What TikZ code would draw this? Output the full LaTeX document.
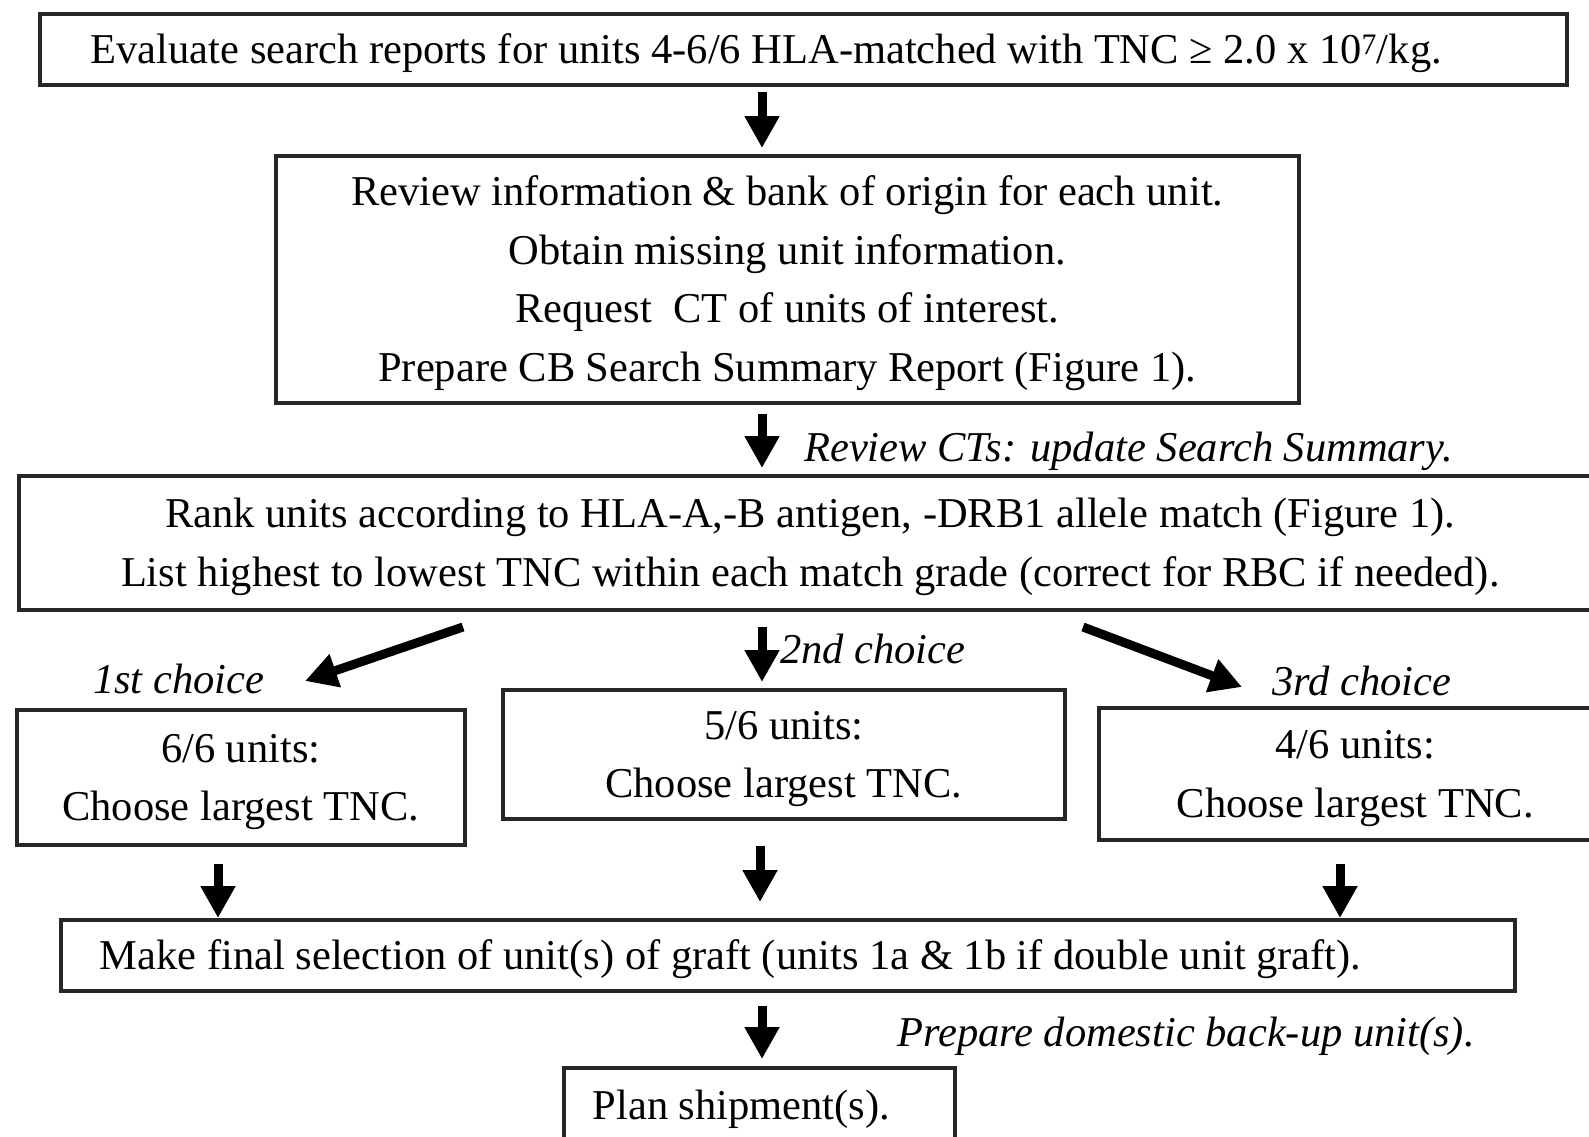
\documentclass[tikz,border=0pt]{standalone}
\usepackage{fontspec}
\setmainfont{Liberation Serif}
\usetikzlibrary{arrows.meta,positioning,calc}

% struts that fix the baseline of a one-line framed step
\newcommand{\topstrut}{\rule{0pt}{40pt}}
\newcommand{\botstrut}{\rule[-11.6pt]{0pt}{0pt}}
% centred lines of a framed step, set a little lower than their box centre
\newcommand{\boxlines}[1]{\raisebox{-2.5pt}[\height][\depth]{\begin{tabular}{@{}c@{}}#1\end{tabular}}}

\tikzset{
  x=1pt, y=-1pt,
  every node/.style={font=\fontsize{42.5}{58.5}\selectfont, text=black},
  stepbox/.style={draw=black!85, line width=3.5pt, inner sep=0pt, anchor=north west},
  leftbox/.style={stepbox, align=left, inner xsep=#1,
    execute at begin node={\spaceskip=0pt\xspaceskip=0pt\topstrut},
    execute at end node=\botstrut},
  note/.style={font=\fontsize{42.5}{58.5}\selectfont\itshape, anchor=base west, inner sep=0pt},
  arr/.style={line width=9pt, -{Triangle[width=33pt,length=32pt]}},
}

\begin{document}
\begin{tikzpicture}
\useasboundingbox (0,0) rectangle (1589,1136);
\clip (0,0) rectangle (1589,1136);

% boxes of the flow
\node[leftbox=51pt, text width=1425pt, minimum height=71pt] (b1) at (38,12)
  {Evaluate search reports for units 4-6/6 HLA-matched with TNC ≥ 2.0 x 10\textsuperscript{7}/kg.};
\node[stepbox, minimum width=1023pt, minimum height=247pt] (b2) at (274,154)
  {\boxlines{Review information \& bank of origin for each unit.\\
   Obtain missing unit information.\\
   Request\ \ CT of units of interest.\\
   Prepare CB Search Summary Report (Figure 1).}};
\node[stepbox, minimum width=1583pt, minimum height=134pt] (b3) at (17,474)
  {\boxlines{Rank units according to HLA-A,-B antigen, -DRB1 allele match (Figure 1).\\
   List highest to lowest TNC within each match grade (correct for RBC if needed).}};
\node[stepbox, minimum width=448pt, minimum height=135pt] (b6) at (15,708)
  {\boxlines{6/6 units:\\ Choose largest TNC.}};
\node[stepbox, minimum width=562pt, minimum height=129pt] (b5) at (501,688)
  {\boxlines{5/6 units:\\ Choose largest TNC.}};
\node[stepbox, minimum width=513pt, minimum height=132pt] (b4) at (1097,706)
  {\boxlines{4/6 units:\\ Choose largest TNC.}};
\node[leftbox=39pt, text width=1376pt, minimum height=71pt] (bF) at (59,918)
  {Make final selection of unit(s) of graft (units 1a \& 1b if double unit graft).};
\node[stepbox, align=left, inner xsep=29pt, text width=333pt, minimum height=84pt,
      execute at begin node={\spaceskip=0pt\xspaceskip=0pt}] (bP) at (562,1066)
  {Plan shipment(s).};

% side notes
\node[note] (nrev) at (804,461) {Review CTs: update Search Summary.};
\node[note] (n1) at (93,693) {1st choice};
\node[note] (n2) at (780,663) {2nd choice};
\node[note] (n3) at (1272,695) {3rd choice};
\node[note] (nprep) at (897,1046) {Prepare domestic back-up unit(s).};

% columns of the vertical arrows
\coordinate (cM) at (762,0);
\coordinate (cM2) at (760,0);
\coordinate (cL) at (218,0);
\coordinate (cR) at (1340,0);

\draw[arr, shorten <=5pt, shorten >=6pt] (b1.south -| cM) -- (b2.north -| cM);
\draw[arr, shorten <=9pt, shorten >=6pt] (b2.south -| cM) -- (b3.north -| cM);
\draw[arr, shorten <=15pt, shorten >=6pt] (b3.south -| cM) -- (b5.north -| cM);
\draw[arr, shorten <=17pt, shorten >=0pt] (b6.south -| cL) -- (bF.north -| cL);
\draw[arr, shorten <=25pt, shorten >=16pt] (b5.south -| cM2) -- (bF.north -| cM2);
\draw[arr, shorten <=22pt, shorten >=0pt] (b4.south -| cR) -- (bF.north -| cR);
\draw[arr, shorten <=13pt, shorten >=7pt] (bF.south -| cM) -- (bP.north -| cM);

% diagonal branches to the first and third choice
\coordinate (dLs) at (463,627);
\coordinate (dLe) at (305,681);
\coordinate (dRs) at (1083,627);
\coordinate (dRe) at (1242,687);
\draw[arr] (dLs) -- (dLe);
\draw[arr] (dRs) -- (dRe);
\end{tikzpicture}
\end{document}
